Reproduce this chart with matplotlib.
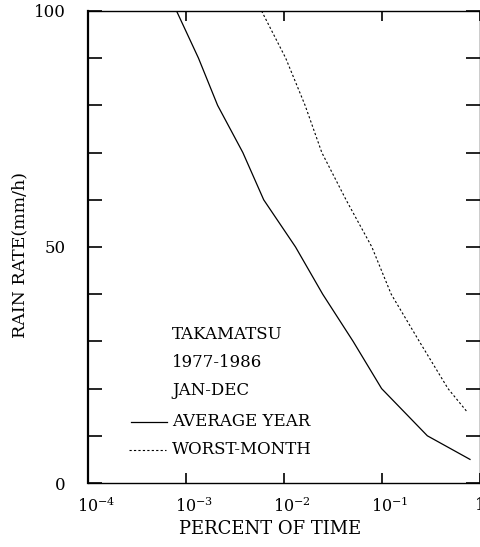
import numpy as np
import matplotlib
matplotlib.use("Agg")
import matplotlib.pyplot as plt
from matplotlib.transforms import ScaledTranslation

plt.rcParams["font.family"] = ["DejaVu Serif"]
plt.rcParams["mathtext.fontset"] = "dejavuserif"

# rain rate (mm/h) vs percent of time exceeded
avg_rate = [100, 90, 80, 70, 60, 50, 40, 30, 20, 10, 5]
avg_pct = [8.0e-4, 1.34e-3, 2.1e-3, 3.8e-3, 6.2e-3, 1.31e-2, 2.48e-2, 5.07e-2, 9.9e-2, 0.29, 0.79]

worst_rate = [100, 90, 80, 70, 60, 50, 40, 30, 20, 15]
worst_pct = [5.9e-3, 1.04e-2, 1.64e-2, 2.43e-2, 4.29e-2, 7.87e-2, 0.124, 0.240, 0.471, 0.743]

xticks = [1e-4, 1e-3, 1e-2, 1e-1, 1]
xticklabels = [r"$\mathregular{10^{-4}}$", r"$\mathregular{10^{-3}}$",
               r"$\mathregular{10^{-2}}$", r"$\mathregular{10^{-1}}$", "1"]

info_lines = ["TAKAMATSU", "1977-1986", "JAN-DEC"]

fig = plt.figure(figsize=(4.81, 5.47), dpi=100)
ax = fig.add_axes([0.183, 0.117, 0.815, 0.863])

ax.plot(avg_pct, avg_rate, color="black", lw=0.9)
ax.plot(worst_pct, worst_rate, color="black", lw=0.8, linestyle=(0, (2, 2)))

ax.set_xscale("log")
ax.set_xlim(1e-4, 1)
ax.set_ylim(0, 100)

ax.set_xticks(xticks)
ax.set_xticklabels(xticklabels, fontsize=11.5)
ax.xaxis.set_minor_locator(matplotlib.ticker.NullLocator())
ax.set_yticks(np.arange(0, 101, 10))
ax.set_yticklabels([str(v) if v % 50 == 0 else "" for v in range(0, 101, 10)], fontsize=12)

ax.tick_params(axis="x", direction="in", length=7, width=1.2, top=True, pad=10)
ax.tick_params(axis="y", direction="in", length=10, width=1.2, right=True, pad=16)
# nudge the "10" of each decade label over its tick
for lbl in ax.get_xticklabels()[:-1]:
    lbl.set_transform(lbl.get_transform() + ScaledTranslation(8 / 100, 0, fig.dpi_scale_trans))

for side in ["top", "right", "bottom"]:
    ax.spines[side].set_linewidth(1.0)
ax.spines["left"].set_linewidth(1.6)

ax.set_xlabel("PERCENT OF TIME", fontsize=13)
ax.xaxis.set_label_coords(0.464, -0.078)
ax.set_ylabel("RAIN RATE(mm/h)", fontsize=12.5)
ax.yaxis.set_label_coords(-0.152, 0.483)

# station info and legend block
tx = 7.2e-4
for i, s in enumerate(info_lines):
    ax.text(tx, 31.5 - 6.0 * i, s, fontsize=12, va="center")
ax.text(tx, 13.0, "AVERAGE YEAR", fontsize=12, va="center")
ax.text(tx, 7.0, "WORST-MONTH", fontsize=12, va="center")
ax.plot([2.75e-4, 6.4e-4], [13.0, 13.0], color="black", lw=0.9)
ax.plot([2.6e-4, 6.3e-4], [7.0, 7.0], color="black", lw=0.8, linestyle=(0, (2, 2)))

fig.savefig("out.png", dpi=100)
